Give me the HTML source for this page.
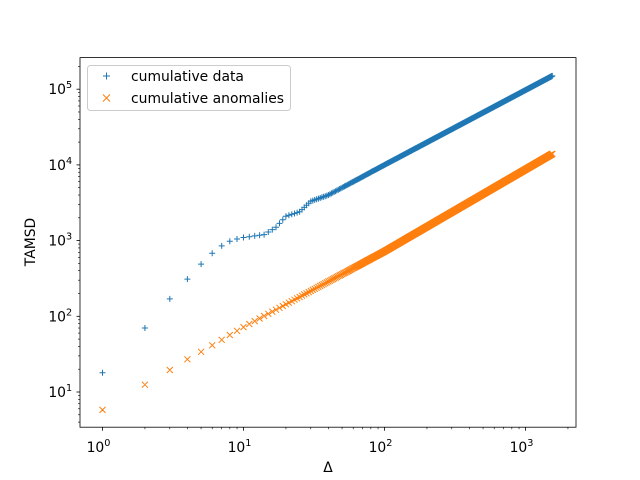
<!DOCTYPE html>
<html><head><meta charset="utf-8"><style>
body{margin:0;background:#fff}
svg{display:block;font-family:"DejaVu Sans","Liberation Sans",sans-serif}
</style></head><body>
<svg id="s" width="640" height="480" viewBox="0 0 640 480" xmlns="http://www.w3.org/2000/svg"></svg>
<script>
const s=document.getElementById('s');
const L=80,R=576,T=57.6,B=427.2;
const X=v=>102.5+141*Math.log10(v);
const Y=v=>392-75.7*(Math.log10(v)-1);
let h='<rect width="640" height="480" fill="#fff"/>';
function interp(a,n){
  for(let i=0;i<a.length-1;i++){
    if(n<=a[i+1][0]){
      const t=(Math.log(n)-Math.log(a[i][0]))/(Math.log(a[i+1][0])-Math.log(a[i][0]));
      return Math.exp(Math.log(a[i][1])+t*(Math.log(a[i+1][1])-Math.log(a[i][1])));
    }
  }
  return a[a.length-1][1];
}
const bA=[[1,18],[2,70],[3,170],[4,310],[5,490],[6,680],[7,850],[8,980],[9,1050],[10,1100],[14,1200],[17,1500],[20,2100],[25,2400],[30,3300],[40,4000],[50,5000],[100,10000],[1550,150000]];
const oA=[[1,5.8],[2,12.5],[3,19.5],[4,27],[5,34],[10,72],[100,720],[1550,14000]];
let pb='',po='';
const N=1550;
for(let n=1;n<=N;n++){
  const xb=X(n);
  if(xb>L&&xb<R){
    const yb=Y(interp(bA,n)),yo=Y(interp(oA,n));
    pb+=`M${(xb-3).toFixed(1)} ${yb.toFixed(1)}h6M${xb.toFixed(1)} ${(yb-3).toFixed(1)}v6`;
    po+=`M${(xb-3).toFixed(1)} ${(yo-3).toFixed(1)}l6 6M${(xb-3).toFixed(1)} ${(yo+3).toFixed(1)}l6 -6`;
  }
}
h+=`<path d="${pb}" stroke="#1f77b4" stroke-width="1" fill="none"/>`;
h+=`<path d="${po}" stroke="#ff7f0e" stroke-width="1" fill="none"/>`;
h+=`<rect x="${L}" y="${T}" width="${R-L}" height="${B-T}" fill="none" stroke="#000" stroke-width="0.8"/>`;
for(let d=0;d<=3;d++){
  for(let m=1;m<10;m++){
    const x=X(m*Math.pow(10,d));
    if(x<L||x>R)continue;
    if(m==1){
      h+=`<line x1="${x}" y1="${B}" x2="${x}" y2="${B+3.5}" stroke="#000" stroke-width="0.8"/>`;
      h+=`<text x="${x-4}" y="452" font-size="13.9" text-anchor="middle">10<tspan dy="-6" font-size="9.7">${d}</tspan></text>`;
    } else h+=`<line x1="${x}" y1="${B}" x2="${x}" y2="${B+2}" stroke="#000" stroke-width="0.6"/>`;
  }
}
for(let d=0;d<=5;d++){
  for(let m=1;m<10;m++){
    const y=Y(m*Math.pow(10,d));
    if(y<T||y>B)continue;
    if(m==1){
      h+=`<line x1="${L}" y1="${y}" x2="${L-3.5}" y2="${y}" stroke="#000" stroke-width="0.8"/>`;
      h+=`<text x="${L-14}" y="${y+5}" font-size="13.9" text-anchor="end">10</text><text x="${L-14}" y="${y-1}" font-size="9.7">${d}</text>`;
    } else h+=`<line x1="${L}" y1="${y}" x2="${L-2}" y2="${y}" stroke="#000" stroke-width="0.6"/>`;
  }
}
h+=`<text x="328" y="472" font-size="13.9" text-anchor="middle">Δ</text>`;
h+=`<text transform="translate(35,242) rotate(-90)" font-size="13.9" text-anchor="middle">TAMSD</text>`;
h+=`<rect x="87.5" y="65.5" width="203" height="45" rx="3" fill="#fff" fill-opacity="0.8" stroke="#ccc"/>`;
h+=`<path d="M103 76h7M106.5 72.5v7" stroke="#1f77b4"/>`;
h+=`<path d="M103 94.5l7 7M103 101.5l7 -7" stroke="#ff7f0e"/>`;
h+=`<text x="131" y="81" font-size="13.9">cumulative data</text>`;
h+=`<text x="131" y="103" font-size="13.9">cumulative anomalies</text>`;
s.innerHTML=h;
</script>
</body></html>
